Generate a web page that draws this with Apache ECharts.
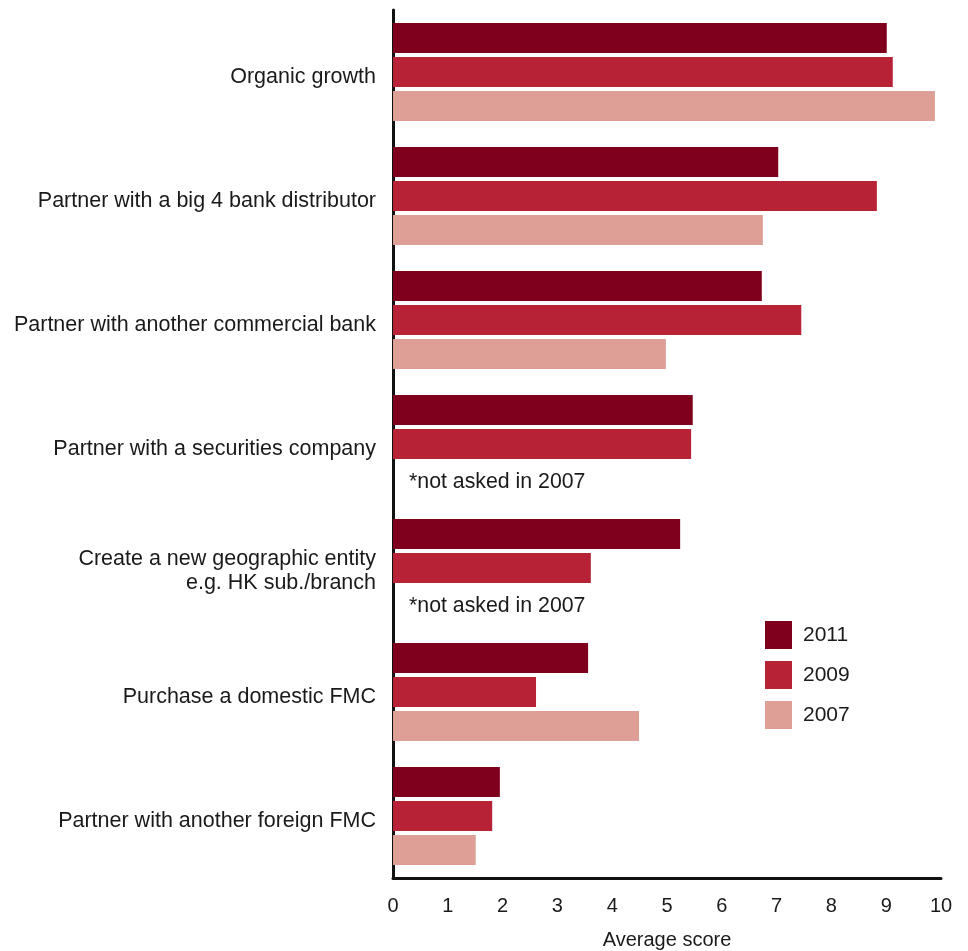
<!DOCTYPE html>
<html>
<head>
<meta charset="utf-8">
<title>Average score by expansion strategy</title>
<script src="https://cdn.jsdelivr.net/npm/echarts@6/dist/echarts.min.js"></script>
<style>
  html, body { margin: 0; padding: 0; background: #ffffff; }
  #chart { width: 968px; height: 951px; }
</style>
</head>
<body>
<div id="chart"></div>
<script>
// Strategies, listed top to bottom
const categories = [
  'Organic growth',
  'Partner with a big 4 bank distributor',
  'Partner with another commercial bank',
  'Partner with a securities company',
  'Create a new geographic entity\ne.g. HK sub./branch',
  'Purchase a domestic FMC',
  'Partner with another foreign FMC'
];

// Average scores per survey year (null = question not asked that year)
const years = ['2011', '2009', '2007'];
const scores2011 = [9.01, 7.03, 6.73, 5.47, 5.24, 3.56, 1.95];
const scores2009 = [9.12, 8.83, 7.45, 5.44, 3.61, 2.61, 1.81];
const scores2007 = [9.89, 6.75, 4.98, null, null, 4.49, 1.51];
const missingNote = '*not asked in 2007';

// Axis ticks
const xTicks = [0, 1, 2, 3, 4, 5, 6, 7, 8, 9, 10];

const colors = ['#7f001c', '#b82236', '#dea096'];
const textColor = '#1a1a1a';
const fontFamily = '"Liberation Sans", Arial, Helvetica, sans-serif';
const catFont = { fontSize: 21.5, color: textColor, fontFamily: fontFamily, lineHeight: 24 };

function buildData(values) {
  return values.map(function (v) {
    if (v === null) {
      return {
        value: 0,
        label: {
          show: true,
          position: 'right',
          distance: 16,
          offset: [0, 4],
          formatter: missingNote,
          color: textColor,
          fontSize: 21.3,
          fontFamily: fontFamily
        }
      };
    }
    return v;
  });
}

// Category labels sit slightly below the band centre
function categoryLabel(value) {
  const lines = value.split('\n');
  if (lines.length === 1) return '{s|' + value + '}';
  return '{m|' + lines[0] + '}\n{m|' + lines[1] + '}';
}

const seriesValues = [scores2011, scores2009, scores2007];

const chart = echarts.init(document.getElementById('chart'), null, { renderer: 'canvas' });

chart.setOption({
  animation: false,
  backgroundColor: '#ffffff',
  color: colors,
  textStyle: { fontFamily: fontFamily, color: textColor },
  grid: {
    left: 393, right: 27, top: 10, bottom: 73,
    containLabel: false,
    outerBoundsMode: 'none'
  },
  legend: {
    data: years,
    orient: 'vertical',
    left: 765,
    top: 621,
    padding: 0,
    icon: 'rect',
    itemWidth: 27,
    itemHeight: 28,
    itemGap: 12,
    textStyle: { fontSize: 21, color: textColor, fontFamily: fontFamily, padding: [0, 0, 0, 6] }
  },
  xAxis: {
    type: 'value',
    min: xTicks[0],
    max: xTicks[xTicks.length - 1],
    interval: 1,
    name: 'Average score',
    nameLocation: 'middle',
    nameGap: 52,
    nameTextStyle: { fontSize: 20, color: textColor, fontFamily: fontFamily },
    axisLine: { show: true, lineStyle: { color: '#111111', width: 3 } },
    axisTick: { show: false },
    splitLine: { show: false },
    axisLabel: { fontSize: 20, color: textColor, margin: 18, fontFamily: fontFamily }
  },
  yAxis: {
    type: 'category',
    data: categories,
    inverse: true,
    axisLine: { show: true, lineStyle: { color: '#111111', width: 3 } },
    axisTick: { show: false },
    axisLabel: {
      fontSize: 21.5,
      color: textColor,
      margin: 17,
      align: 'right',
      lineHeight: 24,
      fontFamily: fontFamily,
      formatter: categoryLabel,
      rich: {
        s: Object.assign({ padding: [10, 0, 0, 0] }, catFont),
        m: Object.assign({ padding: [6, 0, 0, 0] }, catFont)
      }
    }
  },
  series: years.map(function (year, i) {
    return {
      name: year,
      type: 'bar',
      barWidth: 30,
      barGap: '13%',
      data: buildData(seriesValues[i])
    };
  })
});
</script>
</body>
</html>
